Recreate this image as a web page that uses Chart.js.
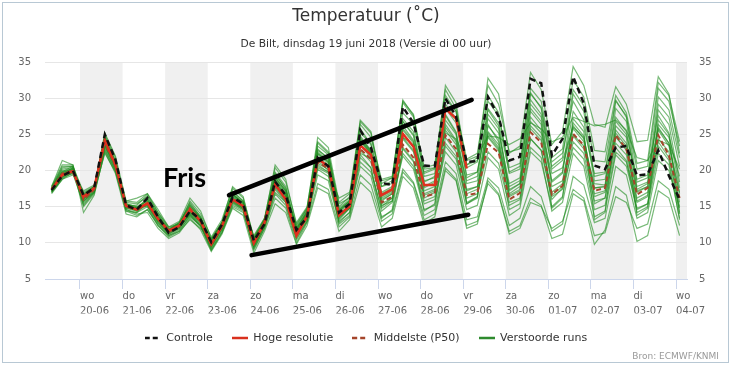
<!DOCTYPE html>
<html>
<head>
<meta charset="utf-8">
<script src="https://cdn.jsdelivr.net/npm/chart.js@4"></script>
<style>
  html, body { margin: 0; padding: 0; background: #fff; }
  #wrap { width: 732px; height: 366px; }
</style>
</head>
<body>
<div id="wrap"><canvas id="plume"></canvas></div>
<script>
// time axis: days since 20-06 00:00, model output every 6 hours from 19-06 08:00
const firstHour = -16;
const stepHours = 6;
const tickDays = [0, 1, 2, 3, 4, 5, 6, 7, 8, 9, 10, 11, 12, 13, 14];
const weekdays = ['wo', 'do', 'vr', 'za', 'zo', 'ma', 'di', 'wo', 'do', 'vr', 'za', 'zo', 'ma', 'di', 'wo'];
const dates = ['20-06', '21-06', '22-06', '23-06', '24-06', '25-06', '26-06', '27-06',
               '28-06', '29-06', '30-06', '01-07', '02-07', '03-07', '04-07'];
const bandDays = [0, 2, 4, 6, 8, 10, 12, 14];

// values per day: 02, 08, 14, 20 uur
const controle = [17.3, 19.3, 20.0,
  16.6, 17.6, 25.0, 21.5,  15.2, 14.6, 16.2, 13.6,  11.4, 12.2, 14.4, 13.2,  10.1, 12.5, 16.3, 15.4,
  10.3, 12.6, 18.5, 16.6,  11.8, 13.5, 21.8, 20.6,  14.2, 15.4, 25.6, 23.2,  18.3, 18.0, 28.8, 26.6,
  20.7, 20.6, 30.0, 27.5,  21.2, 21.3, 30.2, 27.5,  21.4, 21.9, 32.7, 32.1,  22.1, 24.4, 33.0, 29.3,
  20.7, 20.2, 23.2, 23.4,  19.3, 19.5, 22.8, 19.3,  16.0];

const hogeResolutie = [17.4, 19.4, 19.9,
  16.4, 17.6, 24.2, 20.8,  15.1, 14.6, 15.5, 13.3,  11.7, 12.4, 14.6, 13.0,  9.8, 12.3, 16.0, 15.1,
  10.0, 12.8, 18.1, 16.0,  11.0, 13.7, 21.6, 20.6,  13.8, 15.1, 23.5, 22.2,  16.6, 17.4, 25.1, 23.3,
  18.0, 18.0, 28.6, 27.2,  20.3];

const middelste = [17.4, 19.6, 20.0,
  16.0, 17.4, 23.8, 20.6,  15.0, 14.7, 15.4, 13.4,  11.5, 12.3, 14.8, 13.1,  9.9, 12.2, 16.2, 15.0,
  9.9, 12.7, 18.0, 16.2,  11.2, 13.8, 21.2, 20.3,  13.9, 15.0, 23.0, 21.6,  15.6, 16.4, 23.6, 21.8,
  16.4, 16.8, 24.9, 23.0,  16.6, 16.9, 23.7, 22.5,  16.0, 16.9, 25.3, 23.9,  16.7, 17.9, 25.1, 23.5,
  17.2, 17.6, 24.9, 23.0,  16.7, 17.6, 24.9, 22.1,  16.2];

const verstoord = [
  [17.6, 20.2, 20.4, 15.8, 17.2, 24.6, 21.2, 15.6, 15.4, 16.4, 13.8, 11.8, 12.8, 15.6, 13.6, 10.4, 12.8, 17.2, 15.8,
   10.6, 13.2, 19.6, 17.4, 12.2, 14.6, 23.4, 22.2, 15.4, 16.2, 26.4, 24.6, 18.8, 19.2, 29.4, 27.4,
   20.4, 20.8, 31.2, 28.6, 21.6, 22.4, 31.8, 29.2, 22.6, 23.0, 30.6, 28.8, 21.2, 22.4, 29.6, 27.0,
   18.6, 18.8, 25.6, 23.8, 17.4, 18.2, 26.4, 24.6, 19.2],
  [17.0, 19.0, 19.6, 16.8, 17.8, 23.6, 20.4, 14.6, 14.2, 15.0, 12.8, 11.2, 12.0, 14.0, 12.6, 9.4, 11.8, 15.4, 14.6,
   9.2, 12.0, 16.8, 15.2, 10.4, 13.0, 19.4, 18.6, 12.8, 14.2, 20.6, 19.2, 13.6, 14.4, 20.2, 18.4,
   13.8, 14.6, 21.2, 19.6, 13.2, 13.6, 19.0, 17.6, 12.4, 13.4, 17.8, 16.4, 11.6, 12.6, 19.2, 18.0,
   12.8, 13.4, 20.6, 19.4, 13.4, 14.2, 21.4, 20.0, 14.8],
  [17.8, 21.4, 20.8, 14.2, 16.6, 22.8, 20.0, 15.8, 16.2, 16.8, 14.6, 12.2, 12.6, 13.8, 12.2, 9.0, 11.4, 15.0, 14.2,
   9.6, 12.4, 17.6, 15.8, 11.4, 13.4, 22.6, 21.4, 14.6, 15.8, 24.8, 22.8, 16.2, 17.0, 26.2, 24.2,
   17.6, 18.4, 27.8, 25.4, 18.2, 18.6, 26.4, 24.0, 15.6, 16.2, 24.4, 22.8, 16.0, 17.6, 25.0, 23.4,
   18.2, 18.0, 28.6, 26.8, 17.2, 17.8, 29.2, 27.4, 20.6],
  [17.2, 19.8, 20.2, 16.2, 17.6, 24.8, 21.4, 15.2, 14.8, 15.8, 13.6, 11.6, 12.4, 14.6, 13.2, 10.2, 12.6, 16.6, 15.6,
   10.4, 13.0, 19.0, 17.0, 12.0, 14.2, 22.2, 21.0, 14.2, 15.6, 25.2, 23.8, 17.8, 18.6, 28.0, 26.4,
   19.6, 20.2, 30.4, 28.2, 20.8, 21.8, 32.8, 30.6, 22.4, 23.4, 33.6, 31.2, 23.6, 25.4, 34.4, 31.8,
   26.4, 26.0, 31.6, 29.2, 24.0, 24.2, 33.0, 30.6, 22.4],
  [17.4, 19.2, 19.8, 15.2, 17.0, 22.4, 19.8, 14.4, 13.8, 14.6, 12.6, 11.0, 11.8, 13.6, 12.4, 9.6, 12.0, 15.8, 14.8,
   9.8, 12.6, 17.4, 15.6, 10.8, 13.2, 20.2, 19.2, 13.2, 14.8, 21.8, 20.4, 14.4, 15.6, 22.4, 20.6,
   15.4, 16.0, 22.6, 20.8, 14.6, 15.2, 21.8, 20.2, 13.8, 14.8, 22.6, 21.2, 15.0, 16.4, 24.0, 22.4,
   15.8, 16.2, 23.2, 21.4, 14.2, 15.0, 22.4, 20.8, 13.4],
  [16.8, 18.8, 19.4, 17.2, 18.0, 23.2, 20.2, 14.8, 14.4, 15.2, 13.0, 11.4, 12.2, 14.2, 12.8, 9.8, 12.0, 16.4, 15.2,
   10.2, 12.8, 18.6, 16.6, 11.6, 14.0, 22.8, 21.8, 14.8, 16.0, 25.8, 23.6, 17.0, 17.8, 26.8, 24.8,
   18.4, 19.2, 27.6, 25.2, 17.4, 17.8, 25.4, 23.6, 17.8, 18.6, 27.4, 25.6, 19.6, 20.4, 26.2, 24.4,
   17.6, 17.8, 26.8, 25.0, 18.8, 19.4, 27.6, 25.2, 17.6],
  [17.6, 20.6, 20.6, 17.0, 17.8, 24.0, 21.0, 15.4, 15.0, 15.0, 12.4, 11.0, 11.6, 13.2, 12.0, 10.6, 12.8, 15.6, 14.8,
   11.0, 13.4, 18.2, 16.4, 12.6, 14.8, 20.6, 19.8, 16.2, 17.0, 22.4, 21.6, 18.6, 19.0, 24.6, 23.6,
   19.8, 20.4, 25.2, 24.4, 21.4, 22.0, 24.8, 24.6, 23.6, 24.4, 26.6, 25.8, 24.0, 24.6, 27.4, 26.8,
   26.2, 26.4, 27.0, 25.6, 21.8, 21.4, 24.2, 23.6, 20.2],
  [17.2, 19.4, 20.0, 15.6, 17.2, 23.4, 20.4, 14.6, 14.0, 14.2, 12.0, 10.6, 11.4, 13.4, 11.8, 8.8, 11.2, 14.8, 13.8,
   8.6, 11.6, 15.4, 14.2, 9.8, 12.4, 17.6, 16.8, 11.6, 13.2, 18.4, 17.0, 12.2, 13.4, 19.2, 17.6,
   12.6, 13.6, 20.0, 18.6, 12.0, 12.6, 18.6, 16.8, 11.6, 12.4, 16.2, 15.2, 10.6, 11.2, 16.8, 15.8,
   9.8, 11.8, 17.8, 16.6, 10.2, 11.0, 17.2, 16.2, 11.0],
  [17.4, 19.8, 20.6, 16.0, 17.4, 25.0, 21.8, 15.0, 14.6, 16.0, 13.6, 11.6, 12.2, 15.2, 13.4, 10.0, 12.4, 17.0, 15.8,
   10.2, 13.0, 19.8, 17.8, 11.8, 14.2, 24.0, 22.6, 15.0, 16.4, 26.8, 25.2, 17.8, 18.2, 29.8, 27.6,
   19.2, 19.6, 31.8, 29.4, 20.4, 21.2, 30.4, 28.0, 19.6, 20.2, 28.6, 26.8, 17.8, 18.6, 25.8, 24.0,
   15.4, 16.2, 24.6, 23.0, 15.8, 16.6, 25.8, 23.8, 15.6],
  [17.0, 18.8, 19.8, 16.6, 17.8, 23.8, 20.8, 15.2, 15.2, 16.6, 14.2, 12.0, 12.8, 14.6, 13.0, 9.6, 12.2, 16.0, 15.0,
   9.4, 12.4, 18.4, 16.4, 11.0, 13.6, 21.0, 20.2, 13.6, 14.8, 23.6, 21.8, 15.4, 16.2, 24.4, 22.6,
   16.6, 17.2, 26.0, 24.0, 16.8, 17.4, 25.2, 23.2, 16.4, 17.2, 26.2, 24.6, 17.0, 18.2, 26.6, 24.8,
   16.4, 17.0, 24.8, 22.8, 16.2, 17.0, 25.6, 23.4, 16.8],
  [17.6, 20.0, 20.2, 16.2, 17.6, 24.4, 21.0, 15.0, 14.4, 15.6, 13.4, 11.8, 12.6, 15.0, 13.4, 10.0, 12.6, 16.8, 15.4,
   9.8, 12.6, 18.8, 16.8, 11.4, 13.6, 21.4, 20.0, 12.6, 13.8, 22.2, 20.4, 13.4, 14.6, 23.2, 21.4,
   14.4, 15.4, 24.6, 22.6, 15.4, 16.2, 26.2, 24.4, 17.2, 18.2, 29.2, 27.4, 18.4, 19.6, 30.6, 28.2,
   19.2, 19.6, 29.6, 27.6, 18.4, 19.0, 30.2, 28.4, 21.8],
  [17.2, 19.2, 19.6, 15.4, 17.0, 23.0, 20.0, 14.4, 14.2, 15.6, 13.6, 11.6, 12.4, 15.8, 14.0, 10.8, 13.2, 17.6, 16.2,
   10.8, 13.4, 20.4, 18.4, 12.8, 15.0, 23.8, 22.4, 14.4, 15.8, 24.6, 22.6, 15.2, 15.8, 22.0, 20.2,
   14.6, 15.2, 23.4, 21.6, 15.6, 16.4, 24.6, 22.8, 14.6, 15.4, 23.2, 21.8, 14.4, 15.6, 22.4, 20.6,
   13.6, 14.4, 22.2, 20.6, 14.8, 15.4, 23.4, 21.4, 13.2],
  [17.4, 19.6, 20.4, 16.8, 17.6, 24.6, 21.2, 15.4, 15.0, 15.8, 13.2, 11.4, 12.0, 14.0, 12.4, 9.2, 11.6, 15.6, 14.6,
   9.4, 12.2, 17.0, 15.6, 10.6, 13.0, 20.4, 19.6, 13.4, 14.8, 22.8, 21.2, 15.8, 16.8, 25.6, 23.8,
   17.2, 17.8, 26.4, 24.2, 18.6, 19.2, 28.6, 26.6, 19.8, 20.6, 29.8, 27.8, 20.6, 21.8, 31.2, 29.0,
   21.4, 21.2, 29.8, 27.4, 20.2, 20.6, 31.4, 29.6, 23.4],
  [17.0, 19.0, 20.2, 16.6, 17.8, 24.0, 21.0, 15.2, 14.8, 15.2, 12.8, 11.2, 12.2, 14.2, 12.8, 9.4, 12.0, 16.4, 15.4,
   10.0, 12.8, 19.2, 17.2, 11.8, 14.4, 23.0, 21.6, 14.0, 15.2, 24.2, 22.4, 16.4, 17.2, 27.2, 25.4,
   18.6, 19.0, 28.6, 26.6, 19.4, 19.8, 27.2, 25.2, 18.2, 19.0, 30.8, 28.6, 20.2, 21.4, 26.0, 24.6,
   16.8, 17.2, 23.8, 22.2, 14.6, 15.4, 24.4, 22.6, 14.2],
  [17.6, 20.4, 20.6, 15.0, 16.8, 22.6, 19.6, 14.0, 13.6, 14.6, 12.4, 10.8, 11.6, 13.8, 12.4, 9.0, 11.4, 15.2, 14.4,
   9.0, 12.0, 16.2, 14.8, 10.0, 12.8, 18.2, 17.4, 12.2, 13.6, 19.4, 18.0, 13.0, 14.0, 19.8, 18.2,
   13.2, 14.0, 20.4, 18.8, 12.4, 13.0, 18.2, 16.6, 11.2, 12.0, 15.6, 15.0, 12.0, 13.0, 17.4, 16.2,
   11.0, 11.4, 16.4, 15.6, 12.0, 12.6, 18.6, 17.4, 12.4],
  [17.8, 20.8, 20.8, 16.0, 17.4, 25.2, 22.0, 15.8, 15.6, 16.8, 14.2, 12.2, 13.0, 16.2, 14.4, 10.6, 12.8, 17.8, 16.4,
   10.6, 13.2, 20.8, 18.8, 12.4, 14.8, 24.6, 23.2, 15.6, 16.8, 27.0, 25.4, 18.2, 19.0, 29.6, 27.8,
   20.2, 20.4, 30.0, 28.2, 20.8, 21.4, 29.6, 27.6, 20.4, 21.0, 31.4, 29.6, 21.8, 23.0, 32.6, 30.2,
   22.8, 22.6, 30.4, 28.0, 21.0, 21.4, 32.2, 30.4, 24.0],
  [17.2, 19.6, 20.0, 16.4, 17.4, 23.8, 20.8, 15.4, 14.8, 15.4, 13.0, 11.4, 12.4, 14.8, 13.2, 9.8, 12.2, 16.2, 15.2,
   10.0, 12.8, 18.4, 16.6, 11.6, 14.0, 21.8, 20.8, 14.4, 15.6, 24.4, 22.8, 16.8, 17.6, 26.8, 25.0,
   17.8, 18.6, 29.2, 27.2, 19.0, 19.8, 28.4, 26.2, 17.4, 18.2, 26.8, 25.2, 18.6, 19.8, 28.2, 26.0,
   19.6, 19.8, 27.4, 25.4, 17.8, 18.4, 28.4, 26.4, 18.4],
  [17.0, 19.4, 20.4, 15.8, 17.0, 23.4, 20.6, 14.8, 14.6, 15.4, 13.2, 11.6, 12.2, 14.4, 12.8, 9.6, 12.0, 15.8, 14.8,
   9.6, 12.4, 17.8, 16.0, 11.2, 13.4, 20.8, 19.8, 13.0, 14.2, 21.2, 19.8, 14.8, 15.8, 23.0, 21.2,
   15.8, 16.4, 23.8, 22.0, 16.2, 16.8, 22.6, 21.0, 15.2, 16.0, 24.4, 22.8, 16.4, 17.4, 23.2, 21.6,
   14.6, 15.2, 22.6, 21.2, 15.6, 16.4, 24.0, 21.8, 15.0],
  [17.6, 19.8, 20.0, 16.4, 17.8, 24.4, 21.2, 15.2, 14.8, 16.2, 14.0, 11.8, 12.6, 15.4, 13.6, 10.2, 12.6, 16.8, 15.6,
   10.4, 12.8, 19.4, 17.6, 11.4, 14.0, 22.4, 21.2, 13.6, 15.0, 24.0, 22.4, 15.0, 16.2, 25.8, 24.0,
   16.2, 17.0, 27.0, 25.0, 15.4, 16.4, 27.8, 25.8, 16.8, 17.8, 28.2, 26.4, 14.8, 16.2, 27.2, 25.4,
   13.2, 14.2, 26.2, 24.6, 13.8, 14.8, 27.0, 25.0, 14.0],
  [17.4, 19.2, 19.8, 16.2, 17.6, 24.2, 21.0, 15.0, 14.8, 16.0, 13.8, 11.8, 12.8, 15.2, 13.4, 10.4, 12.8, 16.6, 15.6,
   10.6, 13.2, 19.0, 17.2, 12.0, 14.4, 22.4, 21.2, 14.6, 15.8, 24.2, 22.6, 16.0, 16.8, 24.6, 22.8,
   16.8, 17.4, 25.6, 23.6, 17.2, 17.8, 24.8, 23.0, 16.6, 17.4, 25.8, 24.2, 16.6, 17.8, 24.8, 23.0,
   17.6, 17.8, 25.2, 23.4, 17.0, 17.8, 26.0, 23.8, 17.0]
];

// hand-drawn annotation (data units: day, degrees)
const frisLabel = { t: 1.95, v: 17.7, text: 'Fris' };
const wedgeLines = [
  [[3.50, 16.6], [9.20, 29.8]],
  [[4.03, 8.3], [9.12, 13.9]]
];

function toPoints(values) {
  return values.map(function(v, i) {
    return { x: (firstHour + i * stepHours) / 24, y: v };
  });
}

// small line images for the legend, so dashes show
function legendIcon(color, width, dash) {
  const c = document.createElement('canvas');
  c.width = 16; c.height = 4;
  const g = c.getContext('2d');
  g.strokeStyle = color;
  g.lineWidth = width;
  g.setLineDash(dash || []);
  g.beginPath(); g.moveTo(0, 2); g.lineTo(16, 2); g.stroke();
  return c;
}

const datasets = [
  { label: 'Controle', data: toPoints(controle), borderColor: '#111', borderWidth: 2.5, borderDash: [6, 4],
    pointStyle: legendIcon('#111', 2.5, [5, 3]) },
  { label: 'Hoge resolutie', data: toPoints(hogeResolutie), borderColor: '#e0301e', borderWidth: 2.5,
    pointStyle: legendIcon('#d9301e', 2.5) },
  { label: 'Middelste (P50)', data: toPoints(middelste), borderColor: '#a5452b', borderWidth: 2, borderDash: [5, 3],
    pointStyle: legendIcon('#a5452b', 2.5, [5, 3]) }
];
const greenIcon = legendIcon('#2e8b2e', 2.5);
verstoord.forEach(function(run) {
  datasets.push({ label: 'Verstoorde runs', data: toPoints(run), borderColor: 'rgba(30,140,30,0.6)', borderWidth: 1.2,
    pointStyle: greenIcon });
});

const annotate = {
  id: 'annotate',
  beforeDraw(chart) {
    const ctx = chart.ctx, area = chart.chartArea, x = chart.scales.x;
    ctx.save();
    ctx.fillStyle = '#f0f0f0';
    bandDays.forEach(function(d) {
      const left = Math.max(area.left, x.getPixelForValue(d));
      const right = Math.min(area.right, x.getPixelForValue(d + 1));
      if (right > left) ctx.fillRect(left, area.top, right - left, area.bottom - area.top);
    });
    ctx.restore();
  },
  afterDatasetsDraw(chart) {
    const ctx = chart.ctx, x = chart.scales.x, y = chart.scales.y;
    ctx.save();
    ctx.strokeStyle = '#000';
    ctx.lineWidth = 4.5;
    ctx.lineCap = 'round';
    wedgeLines.forEach(function(seg) {
      ctx.beginPath();
      ctx.moveTo(x.getPixelForValue(seg[0][0]), y.getPixelForValue(seg[0][1]));
      ctx.lineTo(x.getPixelForValue(seg[1][0]), y.getPixelForValue(seg[1][1]));
      ctx.stroke();
    });
    ctx.fillStyle = '#000';
    ctx.font = 'bold 27px Lato';
    ctx.textBaseline = 'alphabetic';
    ctx.fillText(frisLabel.text, x.getPixelForValue(frisLabel.t), y.getPixelForValue(frisLabel.v));
    ctx.restore();
  },
  afterDraw(chart) {
    const ctx = chart.ctx;
    ctx.save();
    ctx.fillStyle = '#999';
    ctx.font = '9px "DejaVu Sans"';
    ctx.textAlign = 'right';
    ctx.textBaseline = 'middle';
    ctx.fillText('Bron: ECMWF/KNMI', 719, 357);
    ctx.strokeStyle = '#b8c8d4';
    ctx.lineWidth = 1;
    ctx.strokeRect(2.5, 2.5, 726, 360);
    ctx.restore();
  }
};

const font = 'DejaVu Sans';

new Chart(document.getElementById('plume'), {
  type: 'line',
  data: { datasets: datasets },
  plugins: [annotate],
  options: {
    responsive: true,
    maintainAspectRatio: false,
    animation: false,
    layout: { padding: { left: 0, right: 0, top: 0, bottom: 12.5 } },
    elements: { point: { radius: 0 }, line: { tension: 0 } },
    plugins: {
      title: {
        display: true, text: 'Temperatuur (˚C)', color: '#333',
        font: { family: font, size: 17, weight: 'normal' },
        padding: { top: 6, bottom: 11 }
      },
      subtitle: {
        display: true, text: 'De Bilt, dinsdag 19 juni 2018 (Versie di 00 uur)', color: '#333',
        font: { family: font, size: 10.7 },
        padding: { top: 0, bottom: 12 }
      },
      legend: {
        position: 'bottom',
        labels: {
          usePointStyle: true, pointStyleWidth: 16, padding: 19,
          color: '#333', font: { family: font, size: 11 },
          filter: function(item) { return item.datasetIndex <= 3; }
        }
      },
      tooltip: { enabled: false }
    },
    scales: {
      x: {
        type: 'linear', min: -0.822, max: 14.258,
        afterBuildTicks: function(s) { s.ticks = tickDays.map(function(v) { return { value: v }; }); },
        afterFit: function(s) { s.height = 34.5; },
        grid: { drawOnChartArea: false, drawTicks: true, tickLength: 10, color: '#ccd6eb' },
        border: { color: '#ccd6eb' },
        ticks: {
          align: 'start', padding: 0, maxRotation: 0, autoSkip: false, color: '#666',
          font: { family: font, size: 10, lineHeight: 1.5 },
          callback: function(v) { return [weekdays[v], dates[v]]; }
        }
      },
      y: {
        position: 'left', min: 5, max: 35,
        afterFit: function(s) { s.width = 45; },
        grid: { color: '#e6e6e6', drawTicks: false },
        border: { display: false },
        ticks: { stepSize: 5, padding: 14, color: '#666', font: { family: font, size: 10 } }
      },
      y2: {
        position: 'right', min: 5, max: 35,
        afterFit: function(s) { s.width = 45; },
        grid: { drawOnChartArea: false, drawTicks: false },
        border: { display: false },
        ticks: { stepSize: 5, padding: 12, color: '#666', font: { family: font, size: 10 } }
      }
    }
  }
});
</script>
</body>
</html>
